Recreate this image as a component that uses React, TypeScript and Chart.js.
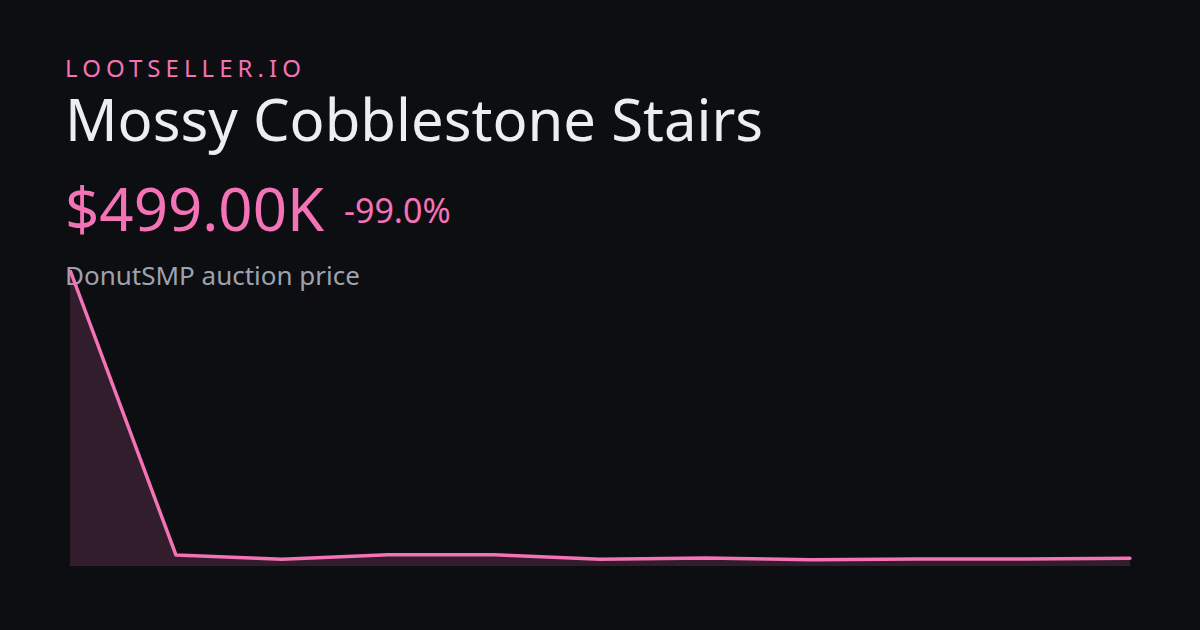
import React, { useEffect, useRef } from "react";
import { Chart, registerables } from "chart.js";

Chart.register(...registerables);

const labels = ["1", "2", "3", "4", "5", "6", "7", "8", "9", "10", "11"];
const prices = [49900000, 1030000, 290000, 1080000, 1080000, 290000, 510000, 220000, 340000, 340000, 499000];

const BG = "#0d0e11";
const PINK = "#f472b6";

export default function App() {
  const ref = useRef<HTMLCanvasElement | null>(null);

  useEffect(() => {
    document.body.style.margin = "0";
    document.body.style.background = BG;
    const ctx = ref.current!;
    const chart = new Chart(ctx, {
      type: "line",
      data: {
        labels,
        datasets: [
          {
            data: prices,
            borderColor: PINK,
            borderWidth: 3.5,
            backgroundColor: "rgba(244,114,182,0.16)",
            fill: "start",
            pointRadius: 0,
            tension: 0,
            borderJoinStyle: "round",
            borderCapStyle: "round",
          },
        ],
      },
      options: {
        animation: false,
        responsive: false,
        maintainAspectRatio: false,
        layout: { padding: 10 },
        plugins: { legend: { display: false }, tooltip: { enabled: false } },
        scales: {
          x: { display: false },
          y: { display: false, min: -850000, max: 49900000 },
        },
      },
    });
    return () => chart.destroy();
  }, []);

  const font = "'Noto Sans', sans-serif";
  const base: React.CSSProperties = {
    position: "absolute",
    left: 65,
    lineHeight: 1,
    fontFamily: font,
    whiteSpace: "nowrap",
    margin: 0,
  };

  return (
    <div
      style={{
        position: "fixed",
        left: 0,
        top: 0,
        width: 1200,
        height: 630,
        background: BG,
        overflow: "hidden",
      }}
    >
      <div style={{ ...base, top: 56, fontSize: 24, letterSpacing: "0.21em", color: PINK }}>LOOTSELLER.IO</div>
      <div style={{ ...base, top: 90, fontSize: 58, color: "#eceef2" }}>Mossy Cobblestone Stairs</div>
      <div style={{ ...base, top: 178.4, fontSize: 60, color: PINK }}>$499.00K</div>
      <div style={{ ...base, left: 344, top: 192.5, fontSize: 34, color: PINK }}>-99.0%</div>
      <div style={{ ...base, top: 262, fontSize: 26, color: "#9ca3af" }}>DonutSMP auction price</div>
      <canvas
        ref={ref}
        width={1080}
        height={316}
        style={{ position: "absolute", left: 60, top: 260, width: 1080, height: 316 }}
      />
    </div>
  );
}
